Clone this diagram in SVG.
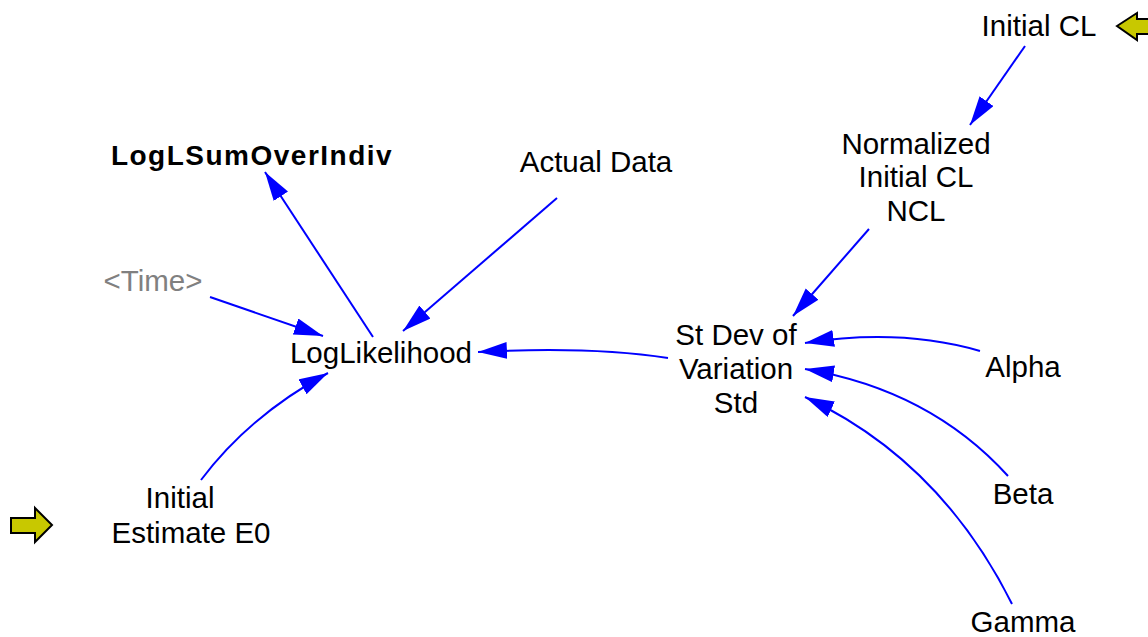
<svg xmlns="http://www.w3.org/2000/svg" width="1148" height="637" viewBox="0 0 1148 637">
  <style>
    .lbl { font-family: "Liberation Sans", Arial, sans-serif; font-size: 29.5px; fill: #000; text-anchor: middle; }
    .bold { font-weight: bold; font-size: 28px; letter-spacing: 1.5px; }
    .shadow { fill: #808080; }
    .link { fill: none; stroke: #0000ff; stroke-width: 2; marker-end: url(#head); }
    .io { fill: #c8c800; stroke: #000; stroke-width: 2; stroke-linejoin: miter; }
  </style>
  <defs>
    <marker id="head" markerUnits="userSpaceOnUse" markerWidth="32" markerHeight="20" refX="29" refY="8.5" orient="auto">
      <path d="M0,0 L29,8.5 L0,17 Z" fill="#0000ff"/>
    </marker>
  </defs>
  <rect width="1148" height="637" fill="#fff"/>

  <!-- connectors -->
  <g id="connectors">
    <path class="link" d="M1025,46 L970,125"/>
    <path class="link" d="M869,229 L793,316"/>
    <path class="link" d="M557,198 L403,331"/>
    <path class="link" d="M373,337 L265,172"/>
    <path class="link" d="M210,297 L323,336"/>
    <path class="link" d="M668,358 Q590,346 478,352"/>
    <path class="link" d="M201,480 Q250,415 328,373"/>
    <path class="link" d="M980,351 Q900,328 805,343"/>
    <path class="link" d="M1008,476 Q930,390 805,369"/>
    <path class="link" d="M1012,604 Q940,460 805,397"/>
  </g>

  <!-- input markers -->
  <g id="io-initial-cl">
    <path class="io" d="M1117,26 L1137,13 L1137,19 L1150,19 L1150,34 L1137,34 L1137,40 Z"/>
  </g>
  <g id="io-initial-estimate">
    <path class="io" d="M11,518 L35,518 L35,508 L52,525 L35,542 L35,533 L11,533 Z"/>
  </g>

  <!-- nodes -->
  <g id="initial-cl"><text class="lbl" x="1039" y="36">Initial CL</text></g>
  <g id="normalized-initial-cl">
    <text class="lbl" x="916" y="154">Normalized</text>
    <text class="lbl" x="916" y="187">Initial CL</text>
    <text class="lbl" x="916" y="221">NCL</text>
  </g>
  <g id="loglsumoverindiv"><text class="lbl bold" x="252" y="165">LogLSumOverIndiv</text></g>
  <g id="actual-data"><text class="lbl" x="596" y="172">Actual Data</text></g>
  <g id="time"><text class="lbl shadow" x="153" y="291">&lt;Time&gt;</text></g>
  <g id="loglikelihood"><text class="lbl" x="381" y="363">LogLikelihood</text></g>
  <g id="st-dev-of-variation">
    <text class="lbl" x="736" y="345">St Dev of</text>
    <text class="lbl" x="736" y="379">Variation</text>
    <text class="lbl" x="736" y="413">Std</text>
  </g>
  <g id="alpha"><text class="lbl" x="1023" y="377">Alpha</text></g>
  <g id="beta"><text class="lbl" x="1023" y="504">Beta</text></g>
  <g id="gamma"><text class="lbl" x="1023" y="632">Gamma</text></g>
  <g id="initial-estimate">
    <text class="lbl" x="180" y="508">Initial</text>
    <text class="lbl" x="191" y="543">Estimate E0</text>
  </g>
</svg>
